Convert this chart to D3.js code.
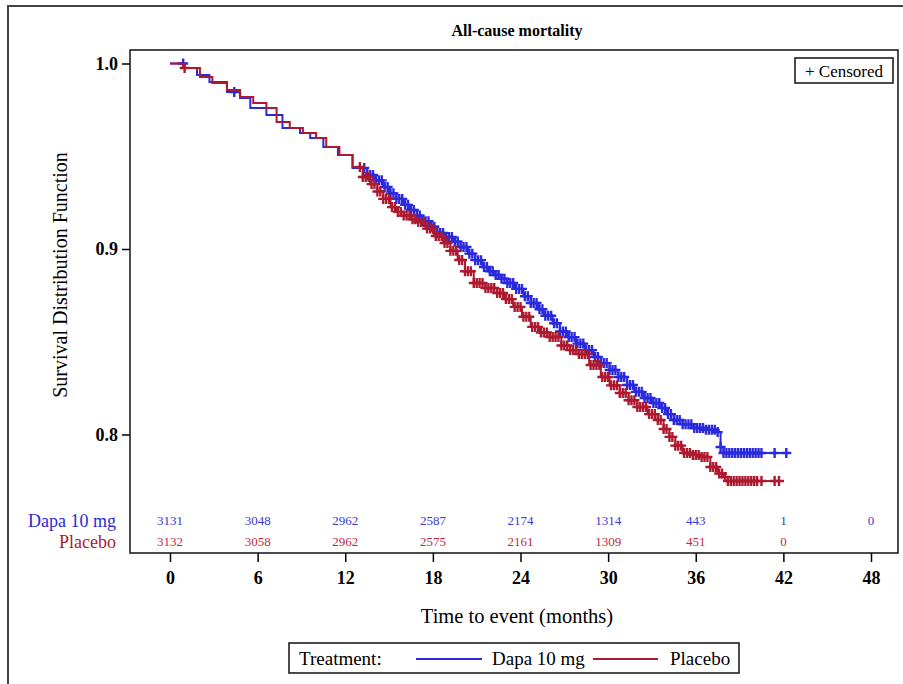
<!DOCTYPE html>
<html>
<head>
<meta charset="utf-8">
<script src="https://cdn.jsdelivr.net/npm/d3@7"></script>
<style>
  body { margin: 0; background: #fff; }
  text { font-family: "Liberation Serif", "Times New Roman", serif; }
</style>
</head>
<body>
<script>
// Kaplan-Meier plot, all-cause mortality, Dapa 10 mg vs placebo
// values

var dapaTime = [0, 1.0, 1.85, 2.7, 3.9, 4.8, 5.5, 6.6, 7.7, 8.9, 9.6, 10.5, 11.5, 12.5, 13.5, 14.0,
  14.6, 15.0, 15.5, 16.0, 16.4, 16.9, 17.3, 17.8, 18.3, 18.8, 19.4, 19.9, 20.4, 20.9, 21.4, 21.8, 22.2,
  22.7, 23.1, 23.6, 24.2, 24.7, 25.2, 25.6, 26.2, 26.7, 27.2, 27.8, 28.4, 29.0, 29.5, 30.1, 30.7, 31.3,
  31.8, 32.4, 33.0, 33.6, 34.0, 34.5, 35.1, 35.8, 36.6, 37.5, 37.7, 37.9, 42.5];
var dapaSurv = [1.0, 0.9976, 0.9938, 0.9900, 0.9846, 0.9814, 0.9760, 0.9722, 0.9652, 0.9625, 0.9598,
  0.9550, 0.9507, 0.9437, 0.9399, 0.9370, 0.9334, 0.9300, 0.9270, 0.9238, 0.9210, 0.9180, 0.9150,
  0.9120, 0.9086, 0.9065, 0.9040, 0.9011, 0.8975, 0.8940, 0.8903, 0.8880, 0.8860, 0.8840, 0.8817,
  0.8785, 0.8745, 0.8709, 0.8675, 0.8640, 0.8600, 0.8555, 0.8525, 0.8490, 0.8455, 0.8418, 0.8385,
  0.8348, 0.8310, 0.8267, 0.8230, 0.8197, 0.8170, 0.8143, 0.8110, 0.8078, 0.8055, 0.8035, 0.8025,
  0.8013, 0.7933, 0.7900, 0.7900];

var placeboTime = [0, 0.9, 2.05, 2.9, 3.9, 4.8, 5.7, 6.6, 7.3, 8.2, 9.1, 10.0, 10.7, 11.6, 12.5, 13.2,
  13.7, 14.2, 14.6, 15.1, 15.5, 16.0, 16.5, 16.9, 17.5, 18.1, 18.7, 19.2, 19.7, 20.2, 20.8, 21.6, 22.4,
  22.9, 23.5, 24.1, 24.7, 25.3, 26.0, 26.8, 27.4, 28.0, 28.7, 29.5, 30.1, 30.8, 31.4, 32.0, 32.7, 33.4,
  33.8, 34.2, 34.6, 35.1, 35.7, 36.3, 37.0, 37.5, 37.9, 38.2, 42.0];
var placeboSurv = [1.0, 0.9976, 0.9927, 0.9895, 0.9857, 0.9819, 0.9787, 0.9760, 0.9685, 0.9652, 0.9625,
  0.9598, 0.9550, 0.9507, 0.9442, 0.9388, 0.9350, 0.9310, 0.9270, 0.9226, 0.9200, 0.9180, 0.9160,
  0.9145, 0.9110, 0.9070, 0.9032, 0.8990, 0.8941, 0.8880, 0.8817, 0.8790, 0.8763, 0.8730, 0.8688,
  0.8635, 0.8580, 0.8550, 0.8526, 0.8480, 0.8455, 0.8434, 0.8375, 0.8310, 0.8265, 0.8224, 0.8185,
  0.8148, 0.8110, 0.8078, 0.8030, 0.7987, 0.7940, 0.7900, 0.7890, 0.7879, 0.7825, 0.7790, 0.7771,
  0.7749, 0.7749];

// censoring times (months)
var dapaCensor = [0.9, 4.4, 13.3, 13.5, 13.7, 13.9, 14.1, 14.3, 14.5, 14.7, 14.9, 15.1, 15.3, 15.5,
  15.7, 15.9, 16.1, 16.3, 16.5, 16.7, 16.9, 17.1, 17.3, 17.5, 17.7, 17.9, 18.1, 18.3, 18.5, 18.7, 18.9,
  19.1, 19.3, 19.5, 19.7, 19.9, 20.1, 20.3, 20.5, 20.7, 20.9, 21.1, 21.3, 21.5, 21.7, 21.9, 22.1, 22.3,
  22.5, 22.7, 22.9, 23.1, 23.3, 23.5, 23.7, 23.9, 24.1, 24.3, 24.5, 24.7, 24.9, 25.1, 25.3, 25.5, 25.7,
  25.9, 26.1, 26.3, 26.5, 26.7, 26.9, 27.1, 27.3, 27.5, 27.7, 27.9, 28.1, 28.3, 28.5, 28.7, 28.9, 29.1,
  29.3, 29.5, 29.7, 29.9, 30.1, 30.3, 30.5, 30.7, 30.9, 31.1, 31.3, 31.5, 31.7, 31.9, 32.1, 32.3, 32.5,
  32.7, 32.9, 33.1, 33.3, 33.5, 33.7, 33.9, 34.1, 34.3, 34.5, 34.7, 34.9, 35.1, 35.3, 35.5, 35.7, 35.9,
  36.1, 36.3, 36.5, 36.7, 36.9, 37.1, 37.3, 37.5, 37.7, 37.9, 38.1, 38.3, 38.5, 38.7, 38.9, 39.1, 39.3,
  39.5, 39.7, 39.9, 40.1, 40.3, 40.5, 41.4, 42.2];
var placeboCensor = [1.0, 13.0, 13.2, 13.4, 13.6, 13.8, 14.0, 14.2, 14.4, 14.6, 14.8, 15.0, 15.2, 15.4,
  15.6, 15.8, 16.0, 16.2, 16.4, 16.6, 16.8, 17.0, 17.2, 17.4, 17.6, 17.8, 18.0, 18.2, 18.4, 18.6, 18.8,
  19.0, 19.2, 19.4, 19.6, 19.8, 20.0, 20.2, 20.4, 20.6, 20.8, 21.0, 21.2, 21.4, 21.6, 21.8, 22.0, 22.2,
  22.4, 22.6, 22.8, 23.0, 23.2, 23.4, 23.6, 23.8, 24.0, 24.2, 24.4, 24.6, 24.8, 25.0, 25.2, 25.4, 25.6,
  25.8, 26.0, 26.2, 26.4, 26.6, 26.8, 27.0, 27.2, 27.4, 27.6, 27.8, 28.0, 28.2, 28.4, 28.6, 28.8, 29.0,
  29.2, 29.4, 29.6, 29.8, 30.0, 30.2, 30.4, 30.6, 30.8, 31.0, 31.2, 31.4, 31.6, 31.8, 32.0, 32.2, 32.4,
  32.6, 32.8, 33.0, 33.2, 33.4, 33.6, 33.8, 34.0, 34.2, 34.4, 34.6, 34.8, 35.0, 35.2, 35.4, 35.6, 35.8,
  36.0, 36.2, 36.4, 36.6, 36.8, 37.0, 37.2, 37.4, 37.6, 37.8, 38.0, 38.2, 38.4, 38.6, 38.8, 39.0, 39.2,
  39.4, 39.6, 39.8, 40.0, 40.2, 40.5, 41.4, 41.7];

// numbers at risk
var riskTimes = [0, 6, 12, 18, 24, 30, 36, 42, 48];
var dapaAtRisk = [3131, 3048, 2962, 2587, 2174, 1314, 443, 1, 0];
var placeboAtRisk = [3132, 3058, 2962, 2575, 2161, 1309, 451, 0];

var xTicks = [0, 6, 12, 18, 24, 30, 36, 42, 48];
var yTicks = [0.8, 0.9, 1.0];

var blue = "#2a2adc";
var red = "#ad1a30";

var svg = d3.select("body").append("svg")
    .attr("width", 903)
    .attr("height", 684);

// outer frame
svg.append("rect")
    .attr("x", 8).attr("y", 6)
    .attr("width", 1000).attr("height", 1000)
    .attr("fill", "none")
    .attr("stroke", "#444")
    .attr("stroke-width", 2);

var plot = {left: 130, top: 50, right: 898, bottom: 553};

var x = d3.scaleLinear().domain([0, 48]).range([170, 871]);
var y = d3.scaleLinear().domain([0.8, 1.0]).range([434.5, 63.5]);

svg.append("text")
    .attr("x", 517).attr("y", 36)
    .attr("text-anchor", "middle")
    .style("font-size", "16px")
    .style("font-weight", "bold")
    .text("All-cause mortality");

// axes
var yAxis = svg.append("g")
    .attr("transform", "translate(" + plot.left + ",0)")
    .call(d3.axisLeft(y).tickValues(yTicks).tickFormat(d3.format(".1f")).tickSize(8).tickPadding(4));
yAxis.select(".domain").remove();
yAxis.selectAll("line").attr("stroke-width", 1.5);
yAxis.selectAll("text")
    .style("font-family", "Liberation Serif, serif")
    .style("font-size", "18px")
    .style("font-weight", "bold")
    .attr("fill", "#000");

var xAxis = svg.append("g")
    .attr("transform", "translate(0," + plot.bottom + ")")
    .call(d3.axisBottom(x).tickValues(xTicks).tickSize(9).tickPadding(9));
xAxis.select(".domain").remove();
xAxis.selectAll("line").attr("stroke-width", 1.5);
xAxis.selectAll("text")
    .style("font-family", "Liberation Serif, serif")
    .style("font-size", "18px")
    .style("font-weight", "bold")
    .attr("fill", "#000");

svg.append("text")
    .attr("transform", "translate(67,275) rotate(-90)")
    .attr("text-anchor", "middle")
    .style("font-size", "20px")
    .text("Survival Distribution Function");

svg.append("text")
    .attr("x", 517).attr("y", 623)
    .attr("text-anchor", "middle")
    .style("font-size", "20.5px")
    .text("Time to event (months)");

// survival curves
function stepValue(times, surv, t)
{
  var i = d3.bisectRight(times, t) - 1;
  return surv[Math.max(0, i)];
}

function drawGroup(times, surv, censor, color)
{
  var pts = times.map(function(t, i) { return [t, surv[i]]; });
  var line = d3.line()
      .x(function(d) { return x(d[0]); })
      .y(function(d) { return y(d[1]); })
      .curve(d3.curveStepAfter);

  svg.append("path")
      .datum(pts)
      .attr("d", line)
      .attr("fill", "none")
      .attr("stroke", color)
      .attr("stroke-width", 2);

  var h = 5;
  svg.append("g").selectAll("path")
      .data(censor)
    .enter().append("path")
      .attr("d", function(t) {
        var cx = x(t), cy = y(stepValue(times, surv, t));
        return "M" + (cx - h) + "," + cy + "H" + (cx + h) + "M" + cx + "," + (cy - h) + "V" + (cy + h);
      })
      .attr("stroke", color)
      .attr("stroke-width", 2.4)
      .attr("fill", "none");
}

drawGroup(dapaTime, dapaSurv, dapaCensor, blue);
drawGroup(placeboTime, placeboSurv, placeboCensor, red);

// at-risk table
svg.append("g").selectAll("text")
    .data(dapaAtRisk)
  .enter().append("text")
    .attr("x", function(d, i) { return x(riskTimes[i]); })
    .attr("y", 525)
    .attr("text-anchor", "middle")
    .attr("fill", "#3a3ad0")
    .style("font-size", "13px")
    .text(function(d) { return d; });

svg.append("g").selectAll("text")
    .data(placeboAtRisk)
  .enter().append("text")
    .attr("x", function(d, i) { return x(riskTimes[i]); })
    .attr("y", 546)
    .attr("text-anchor", "middle")
    .attr("fill", "#c02a40")
    .style("font-size", "13px")
    .text(function(d) { return d; });

svg.append("text")
    .attr("x", 116).attr("y", 527)
    .attr("text-anchor", "end")
    .attr("fill", blue)
    .style("font-size", "18px")
    .text("Dapa 10 mg");

svg.append("text")
    .attr("x", 116).attr("y", 548)
    .attr("text-anchor", "end")
    .attr("fill", red)
    .style("font-size", "18px")
    .text("Placebo");

// plot frame
svg.append("rect")
    .attr("x", plot.left).attr("y", plot.top)
    .attr("width", plot.right - plot.left)
    .attr("height", plot.bottom - plot.top)
    .attr("fill", "none")
    .attr("stroke", "#111")
    .attr("stroke-width", 1.5);

// censored legend
svg.append("rect")
    .attr("x", 795).attr("y", 58)
    .attr("width", 98).attr("height", 25)
    .attr("fill", "#fff")
    .attr("stroke", "#111")
    .attr("stroke-width", 1.5);
svg.append("text")
    .attr("x", 844).attr("y", 77)
    .attr("text-anchor", "middle")
    .style("font-size", "17px")
    .text("+ Censored");

// treatment legend
svg.append("rect")
    .attr("x", 289).attr("y", 643)
    .attr("width", 450).attr("height", 30)
    .attr("fill", "#fff")
    .attr("stroke", "#111")
    .attr("stroke-width", 1.5);
svg.append("text")
    .attr("x", 299).attr("y", 665)
    .style("font-size", "19px")
    .text("Treatment:");

var legendItems = [
  {name: "Dapa 10 mg", color: blue, x1: 416, x2: 482, tx: 492},
  {name: "Placebo", color: red, x1: 593, x2: 658, tx: 670}
];
legendItems.forEach(function(d) {
  svg.append("line")
      .attr("x1", d.x1).attr("x2", d.x2)
      .attr("y1", 659).attr("y2", 659)
      .attr("stroke", d.color)
      .attr("stroke-width", 2);
  svg.append("text")
      .attr("x", d.tx).attr("y", 665)
      .style("font-size", "19px")
      .text(d.name);
});
</script>
</body>
</html>
